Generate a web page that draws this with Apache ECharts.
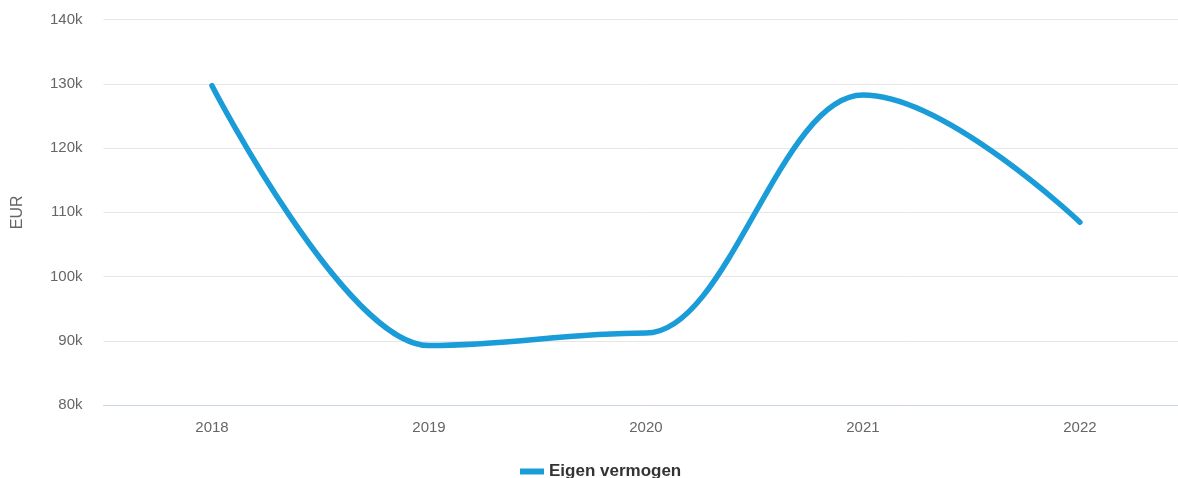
<!DOCTYPE html>
<html>
<head>
<meta charset="utf-8">
<script src="https://cdn.jsdelivr.net/npm/echarts@6/dist/echarts.min.js"></script>
<style>
  html, body { margin: 0; padding: 0; background: #fff; }
  #chart { width: 1178px; height: 478px; }
</style>
</head>
<body>
<div id="chart"></div>
<script>
var years = [2018, 2019, 2020, 2021, 2022];
var eigenVermogen = [129700, 89250, 91200, 128250, 108450];
var seriesName = "Eigen vermogen";

var font = "'Liberation Sans', Arial, sans-serif";

// x as value axis so the last band can run past the right edge like the original
var points = [];
for (var i = 0; i < years.length; i++) {
  points.push([years[i], eigenVermogen[i]]);
}

var chart = echarts.init(document.getElementById("chart"));
chart.setOption({
  animation: false,
  textStyle: { fontFamily: font },
  grid: {
    left: 103.5, right: 0, top: 19.5, bottom: 73,
    containLabel: false,
    outerBoundsMode: "none"
  },
  legend: {
    top: 458,
    left: 515,
    icon: "rect",
    itemWidth: 24,
    itemHeight: 6,
    itemGap: 8,
    textStyle: { fontSize: 17, fontWeight: "bold", color: "#333", fontFamily: font },
    data: [seriesName]
  },
  xAxis: {
    type: "value",
    min: 2017.5,
    max: 2022.452,
    interval: 0.5,
    axisLine: { show: true, onZero: false, lineStyle: { color: "#ccd6eb", width: 1 } },
    axisTick: { show: false },
    splitLine: { show: false },
    axisLabel: {
      color: "#666",
      fontSize: 15,
      margin: 15,
      showMinLabel: false,
      showMaxLabel: false,
      formatter: function (v) { return v % 1 === 0 ? String(v) : ""; }
    }
  },
  yAxis: {
    type: "value",
    min: 80000,
    max: 140000,
    interval: 10000,
    name: "EUR",
    nameLocation: "middle",
    nameGap: 78,
    nameRotate: 90,
    nameTextStyle: { color: "#666", fontSize: 16 },
    axisLine: { show: false },
    axisTick: { show: false },
    splitLine: { lineStyle: { color: "#e6e6e6" } },
    axisLabel: {
      color: "#666",
      fontSize: 15,
      margin: 21,
      formatter: function (v) { return (v / 1000) + "k"; }
    }
  },
  series: [{
    name: seriesName,
    type: "line",
    data: points,
    smooth: 0.38,
    smoothMonotone: "x",
    showSymbol: false,
    lineStyle: { color: "#1a9cd8", width: 5.5, cap: "round" },
    itemStyle: { color: "#1a9cd8" }
  }]
});
</script>
</body>
</html>
